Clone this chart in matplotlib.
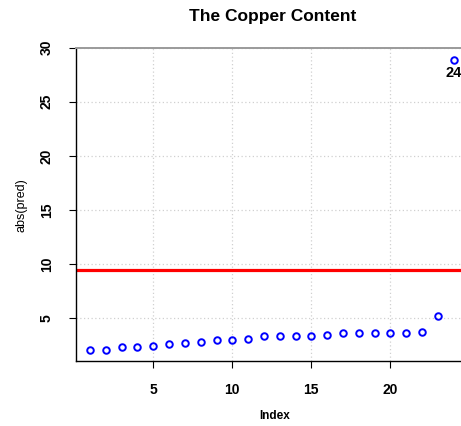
import matplotlib
matplotlib.use("Agg")
import matplotlib.pyplot as plt

plt.rcParams['font.family'] = ['Liberation Sans', 'DejaVu Sans']

index = list(range(1, 25))
abs_pred = [2.1, 2.1, 2.35, 2.35, 2.45, 2.65, 2.75, 2.8, 3.0, 3.0, 3.05,
            3.35, 3.35, 3.35, 3.35, 3.45, 3.6, 3.65, 3.65, 3.65, 3.65, 3.7,
            5.2, 28.8]
threshold = 9.45
labelled_point = 24
xticks = [5, 10, 15, 20]
yticks = [5, 10, 15, 20, 25, 30]
title = "The Copper Content"
xlabel = "Index"
ylabel = "abs(pred)"

W, H = 461, 426
fig = plt.figure(figsize=(W / 100, H / 100), dpi=100)
ax = fig.add_axes([76 / W, (H - 361) / H, 1 - 76 / W, (361 - 47.5) / H])

ax.set_xlim(0.11, 24.47)
ax.set_ylim(1.06, 30.0)

ax.grid(True, color='#d0d0d0', linestyle=(0, (1, 2)), linewidth=0.9)
ax.set_axisbelow(True)

ax.plot(index, abs_pred, linestyle='none', marker='o', markersize=4.7,
        markerfacecolor='none', markeredgecolor='#0000ff', markeredgewidth=1.4)
ax.axhline(threshold, color='#ff0000', linewidth=2.3)

i = index.index(labelled_point)
ax.annotate(str(labelled_point), (index[i], abs_pred[i]), xytext=(0, -9),
            textcoords='offset points', ha='center', va='center',
            fontsize=10.5, fontweight='bold')

ax.set_xticks(xticks)
ax.set_yticks(yticks)
ax.set_xticklabels([str(t) for t in xticks], fontsize=10, fontweight='bold')
ax.set_yticklabels([str(t) for t in yticks], fontsize=10, fontweight='bold',
                   rotation=90, va='center')
ax.tick_params(axis='x', length=5, width=0.8, pad=11)
ax.tick_params(axis='y', length=5, width=0.8, pad=11)

ax.spines['right'].set_visible(False)
ax.spines['top'].set_color('#9a9a9a')
ax.spines['top'].set_linewidth(1.4)
ax.spines['left'].set_color('black')
ax.spines['left'].set_linewidth(1.0)
ax.spines['bottom'].set_color('black')
ax.spines['bottom'].set_linewidth(1.0)

fig.text(273 / W, 1 - 16.5 / H, title, ha='center', va='center',
         fontsize=12.5, fontweight='heavy')
fig.text(275 / W, 1 - 416 / H, xlabel, ha='center', va='center',
         fontsize=8.5, fontweight='bold')
fig.text(21 / W, 1 - 205 / H, ylabel, ha='center', va='center',
         fontsize=9, rotation=90)

fig.savefig("out.png", dpi=100)
